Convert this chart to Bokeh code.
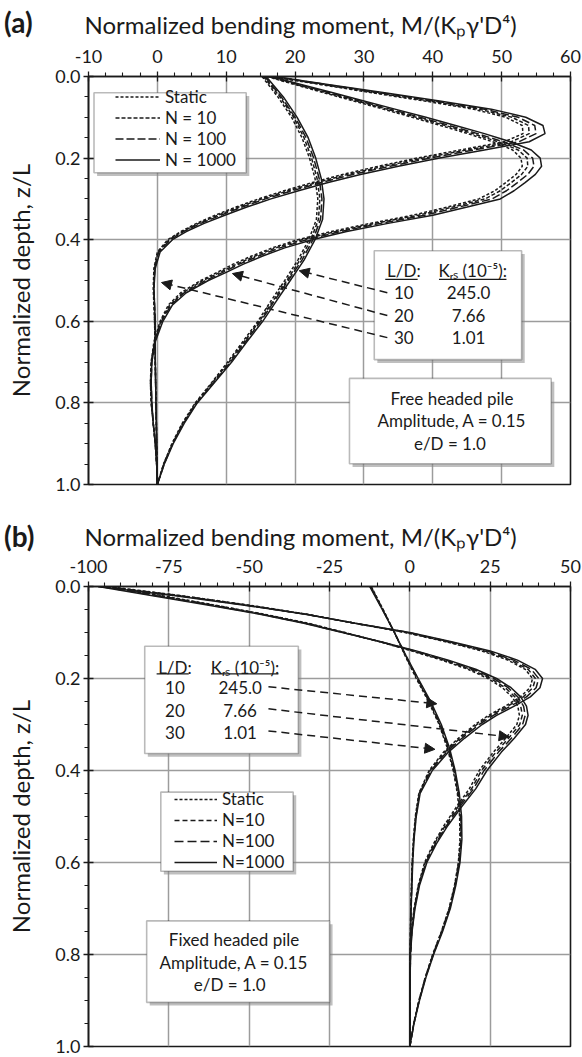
from bokeh.plotting import figure
from bokeh.models import (Range1d, FixedTicker, PrintfTickFormatter, Label, Legend, LegendItem,
                          BoxAnnotation, Arrow, NormalHead, ColumnDataSource, Title, Div, GridBox)
from bokeh.embed import file_html
from bokeh.resources import INLINE

# ---------------- DATA: panel (a) free headed pile ----------------
series_names_a = ["Static", "N = 10", "N = 100", "N = 1000"]

a10_z = [0.00, 0.05, 0.10, 0.15, 0.20, 0.25, 0.30, 0.35, 0.40, 0.45, 0.50,
         0.55, 0.60, 0.65, 0.70, 0.75, 0.80, 0.85, 0.90, 0.95, 1.00]
a10_static = [15.2, 17.5, 19.5, 21.0, 22.1, 22.9, 23.3, 23.1, 22.0, 20.4, 18.5,
              16.5, 14.6, 12.4, 10.2, 7.9, 5.5, 3.6, 2.1, 0.9, 0.0]
a10_n10 = [15.4, 17.8, 19.8, 21.3, 22.4, 23.2, 23.6, 23.4, 22.3, 20.7, 18.8,
           16.8, 14.8, 12.6, 10.4, 8.0, 5.6, 3.7, 2.2, 0.9, 0.0]
a10_n100 = [15.6, 18.0, 20.0, 21.6, 22.7, 23.5, 23.9, 23.7, 22.6, 21.0, 19.0,
            17.0, 15.0, 12.8, 10.6, 8.2, 5.7, 3.8, 2.2, 1.0, 0.0]
a10_n1000 = [15.8, 18.3, 20.3, 21.9, 23.0, 23.8, 24.2, 24.0, 22.9, 21.3, 19.3,
             17.3, 15.3, 13.0, 10.8, 8.3, 5.8, 3.9, 2.3, 1.0, 0.0]

a20_z = [0.00, 0.02, 0.04, 0.06, 0.08, 0.10, 0.12, 0.14, 0.16, 0.18, 0.20, 0.22,
         0.24, 0.26, 0.28, 0.30, 0.32, 0.34, 0.36, 0.38, 0.40, 0.42, 0.44, 0.46,
         0.48, 0.50, 0.53, 0.56, 0.60, 0.65, 0.70, 0.75, 0.80, 0.85, 0.90, 0.95, 1.00]
a20_static = [15.9, 20.0, 24.2, 28.5, 32.8, 37.0, 41.1, 45.1, 48.7, 51.6, 52.8, 53.0,
              52.1, 50.6, 49.0, 46.7, 42.1, 37.1, 30.9, 25.2, 20.4, 16.7, 13.7, 11.0,
              8.7, 6.3, 3.4, 1.6, 0.4, -0.5, -0.9, -1.0, -0.9, -0.6, -0.3, -0.1, 0.0]
a20_n10 = [16.1, 20.3, 24.6, 29.0, 33.3, 37.6, 41.8, 45.8, 49.5, 52.4, 53.7, 53.8,
           52.9, 51.4, 49.8, 47.6, 42.9, 37.9, 31.6, 25.9, 21.0, 17.2, 14.2, 11.5,
           9.1, 6.6, 3.7, 1.8, 0.5, -0.4, -0.9, -1.0, -0.9, -0.6, -0.3, -0.1, 0.0]
a20_n100 = [16.3, 20.6, 25.0, 29.4, 33.8, 38.2, 42.4, 46.5, 50.2, 53.2, 54.5, 54.7,
            53.8, 52.3, 50.7, 48.6, 43.8, 38.8, 32.4, 26.6, 21.7, 17.8, 14.7, 11.9,
            9.5, 7.0, 3.9, 2.0, 0.6, -0.4, -0.8, -0.9, -0.8, -0.6, -0.3, -0.1, 0.0]
a20_n1000 = [16.5, 21.0, 25.5, 30.0, 34.5, 39.0, 43.3, 47.5, 51.3, 54.3, 55.6, 55.8,
             54.9, 53.4, 51.8, 49.8, 45.0, 40.0, 33.5, 27.5, 22.5, 18.5, 15.3, 12.5,
             10.0, 7.4, 4.2, 2.2, 0.8, -0.3, -0.8, -0.9, -0.8, -0.6, -0.3, -0.1, 0.0]

a30_z = [0.00, 0.02, 0.04, 0.06, 0.08, 0.10, 0.12, 0.14, 0.16, 0.18, 0.20, 0.22,
         0.24, 0.26, 0.28, 0.30, 0.32, 0.34, 0.36, 0.38, 0.40, 0.43, 0.47, 0.52,
         0.60, 0.70, 0.80, 0.90, 1.00]
a30_static = [16.4, 23.8, 31.2, 38.8, 45.9, 50.6, 53.0, 53.1, 50.4, 44.0, 37.7, 32.1,
              26.9, 22.5, 18.4, 14.7, 11.4, 8.4, 5.7, 3.4, 1.5, 0.0, -0.5, -0.6,
              -0.4, -0.3, -0.2, -0.1, 0.0]
a30_n10 = [16.6, 24.2, 31.8, 39.5, 46.7, 51.5, 53.9, 54.0, 51.4, 45.0, 38.6, 32.9,
           27.6, 23.1, 19.0, 15.2, 11.8, 8.8, 6.0, 3.6, 1.7, 0.1, -0.4, -0.5,
           -0.4, -0.3, -0.2, -0.1, 0.0]
a30_n100 = [16.8, 24.6, 32.4, 40.2, 47.5, 52.4, 54.8, 55.0, 52.5, 46.0, 39.6, 33.8,
            28.4, 23.8, 19.6, 15.7, 12.3, 9.2, 6.3, 3.8, 1.9, 0.2, -0.4, -0.5,
            -0.3, -0.3, -0.2, -0.1, 0.0]
a30_n1000 = [17.0, 25.0, 33.0, 41.0, 48.5, 53.5, 56.0, 56.3, 54.0, 47.5, 41.0, 35.0,
             29.5, 24.8, 20.5, 16.5, 13.0, 9.8, 6.8, 4.2, 2.2, 0.4, -0.3, -0.5,
             -0.3, -0.3, -0.2, -0.1, 0.0]

# ---------------- DATA: panel (b) fixed headed pile ----------------
series_names_b = ["Static", "N=10", "N=100", "N=1000"]

b10_z = [0.00, 0.05, 0.10, 0.15, 0.20, 0.25, 0.30, 0.35, 0.40, 0.45, 0.50,
         0.55, 0.60, 0.65, 0.70, 0.75, 0.80, 0.85, 0.90, 0.95, 1.00]
b10_static = [-12.0, -8.3, -4.8, -1.5, 2.0, 5.8, 9.1, 11.6, 13.5, 14.8, 15.5,
              15.6, 15.1, 13.9, 12.2, 9.8, 7.1, 4.8, 2.8, 1.2, 0.0]
b10_n10 = [-12.1, -8.4, -4.8, -1.4, 2.2, 6.0, 9.3, 11.8, 13.7, 15.0, 15.7,
           15.8, 15.2, 14.0, 12.3, 9.9, 7.2, 4.8, 2.9, 1.2, 0.0]
b10_n100 = [-12.3, -8.5, -4.8, -1.3, 2.4, 6.2, 9.5, 12.0, 13.9, 15.2, 15.9,
            16.0, 15.4, 14.1, 12.4, 10.0, 7.3, 4.9, 2.9, 1.3, 0.0]
b10_n1000 = [-12.5, -8.6, -4.8, -1.2, 2.6, 6.5, 9.8, 12.3, 14.1, 15.4, 16.1,
             16.2, 15.6, 14.3, 12.6, 10.2, 7.4, 5.0, 3.0, 1.3, 0.0]

b20_z = [0.00, 0.02, 0.04, 0.06, 0.08, 0.10, 0.12, 0.14, 0.16, 0.18, 0.20, 0.22,
         0.24, 0.26, 0.28, 0.30, 0.33, 0.36, 0.40, 0.44, 0.48, 0.52, 0.56, 0.60,
         0.65, 0.70, 0.75, 0.80, 0.90, 1.00]
b20_static = [-94, -77, -61, -45.5, -31.5, -20.2, -9.4, 0.5, 9.9, 18.1, 24.3, 28.8,
              31.8, 33.6, 34.1, 33.3, 29.8, 26.0, 21.6, 18.5, 14.4, 10.6, 7.3, 4.6,
              2.6, 1.3, 0.5, 0.1, 0.0, 0.0]
b20_n10 = [-95, -78, -61.5, -46, -32, -20.5, -9.3, 1.0, 10.6, 18.9, 25.2, 29.7,
           32.7, 34.5, 35.0, 34.2, 30.7, 26.8, 22.3, 19.2, 14.9, 11.0, 7.6, 4.8,
           2.7, 1.4, 0.6, 0.2, 0.0, 0.0]
b20_n100 = [-96, -79, -62, -46.5, -32.5, -20.8, -9.2, 1.5, 11.3, 19.7, 26.1, 30.6,
            33.6, 35.4, 35.9, 35.1, 31.6, 27.6, 23.1, 19.8, 15.4, 11.4, 7.9, 5.0,
            2.8, 1.5, 0.6, 0.2, 0.0, 0.0]
b20_n1000 = [-97, -80, -63, -47, -33, -21, -9, 2, 12, 20.5, 27, 31.5,
             34.5, 36.3, 36.8, 36.0, 32.5, 28.5, 24.0, 20.5, 16.0, 11.8, 8.2, 5.3,
             3.0, 1.6, 0.7, 0.2, 0.0, 0.0]

b30_z = [0.00, 0.02, 0.04, 0.06, 0.08, 0.10, 0.12, 0.14, 0.16, 0.18, 0.20, 0.22,
         0.24, 0.26, 0.28, 0.30, 0.33, 0.36, 0.40, 0.45, 0.50, 0.55, 0.60, 0.70,
         0.80, 0.90, 1.00]
b30_static = [-94, -71, -50.5, -32.2, -17, -1.5, 11.1, 22.4, 30.5, 35.9, 38.2, 37.4,
              34.4, 29.7, 24.5, 20.3, 15.1, 10.5, 6.0, 2.8, 1.7, 1.1, 0.7, 0.3,
              0.1, 0.0, 0.0]
b30_n10 = [-95, -71.5, -51, -32.5, -17, -1.0, 11.7, 23.2, 31.4, 36.8, 39.1, 38.3,
           35.3, 30.5, 25.2, 20.9, 15.6, 10.9, 6.3, 2.9, 1.8, 1.2, 0.8, 0.3,
           0.1, 0.0, 0.0]
b30_n100 = [-96, -72, -51.5, -32.7, -17, -0.5, 12.3, 24, 32.3, 37.8, 40.1, 39.3,
            36.3, 31.4, 26.0, 21.6, 16.2, 11.4, 6.6, 3.0, 1.9, 1.2, 0.8, 0.4,
            0.1, 0.0, 0.0]
b30_n1000 = [-97, -73, -52, -33, -17, 0, 13, 25, 33.5, 39, 41.3, 40.5,
             37.5, 32.5, 27, 22.5, 17, 12.0, 7.0, 3.2, 2.0, 1.3, 0.9, 0.4,
             0.1, 0.0, 0.0]

# table contents
ld_values = ["10", "20", "30"]
krs_values = ["245.0", "7.66", "1.01"]

# axis ticks
a_xticks = [-10, 0, 10, 20, 30, 40, 50, 60]
b_xticks = [-100, -75, -50, -25, 0, 25, 50]
yticks = [0.0, 0.2, 0.4, 0.6, 0.8, 1.0]

# ---------------- STYLE ----------------
FONT = "Lato"
INK = "#1a1a1a"
dash_a = ["3 2", "4 2", "8 3", "solid"]
dash_b = ["3 2", "5 3", "9 4", "solid"]
TITLE = "Normalized bending moment,  M/(K\u209a\u03b3'D\u2074)"
YLABEL = "Normalized depth, z/L"


def minor(ticks, n):
    out = []
    for a, b in zip(ticks[:-1], ticks[1:]):
        step = (b - a) / n
        out += [a + step * k for k in range(1, n)]
    return out


def make_fig(height, border_top, border_bottom, xticks, n_minor_x, title_standoff):
    p = figure(width=582, height=height,
               x_range=Range1d(xticks[0], xticks[-1]), y_range=Range1d(1.0, 0.0),
               x_axis_location="above", output_backend="svg", toolbar_location=None,
               min_border_left=88, min_border_right=12,
               min_border_top=border_top, min_border_bottom=border_bottom)
    p.title = Title(text=TITLE, align="left", offset=-4, standoff=title_standoff,
                    text_font=FONT, text_font_size="24px", text_font_style="normal",
                    text_line_height=1.0, text_color=INK)
    p.background_fill_color = "white"
    p.border_fill_color = "white"
    p.outline_line_color = INK
    p.outline_line_width = 1.6
    p.xaxis.ticker = FixedTicker(ticks=xticks, minor_ticks=minor(xticks, n_minor_x))
    p.yaxis.ticker = FixedTicker(ticks=yticks, minor_ticks=minor(yticks, 4))
    p.xaxis.formatter = PrintfTickFormatter(format="%d")
    p.yaxis.formatter = PrintfTickFormatter(format="%.1f")
    for ax in (p.xaxis[0], p.yaxis[0]):
        ax.axis_line_color = INK
        ax.axis_line_width = 1.6
        ax.major_tick_line_color = INK
        ax.major_tick_line_width = 1.3
        ax.minor_tick_line_color = INK
        ax.minor_tick_line_width = 1.1
        ax.major_tick_in = 5
        ax.major_tick_out = 5
        ax.minor_tick_in = 0
        ax.minor_tick_out = 4
        ax.major_label_text_font = FONT
        ax.major_label_text_font_size = "18px"
        ax.major_label_text_color = INK
    p.xaxis.major_label_standoff = 9
    p.yaxis.major_label_standoff = 3
    p.yaxis.axis_label = YLABEL
    p.yaxis.axis_label_standoff = 17
    p.yaxis.axis_label_text_font = FONT
    p.yaxis.axis_label_text_font_size = "24px"
    p.yaxis.axis_label_text_font_style = "normal"
    p.yaxis.axis_label_text_color = INK
    p.xgrid.ticker = FixedTicker(ticks=xticks)
    p.ygrid.ticker = FixedTicker(ticks=yticks)
    for g in (p.xgrid[0], p.ygrid[0]):
        g.grid_line_color = "#9c9c9c"
        g.grid_line_width = 1.5
    return p


def text(p, x, y, s, size="17px", align="center"):
    p.add_layout(Label(x=x, y=y, text=s, text_font=FONT, text_font_size=size,
                       text_align=align, text_baseline="middle", text_color=INK))


def box(p, left, right, top, bottom, dx, dz):
    p.add_layout(BoxAnnotation(left=left + dx, right=right + dx, top=top + dz, bottom=bottom + dz,
                               fill_color="#8a8a8a", fill_alpha=0.55, line_alpha=0))
    p.add_layout(BoxAnnotation(left=left, right=right, top=top, bottom=bottom,
                               fill_color="white", fill_alpha=1.0,
                               line_color=INK, line_width=1.6))


def underline(p, x0, x1, y):
    p.add_layout(Arrow(x_start=x0, x_end=x1, y_start=y, y_end=y, end=None,
                       line_color=INK, line_width=1.2))


def arrow(p, x0, y0, x1, y1):
    p.add_layout(Arrow(x_start=x0, y_start=y0, x_end=x1, y_end=y1,
                       line_color=INK, line_width=1.5, line_dash="8 5",
                       end=NormalHead(size=10, fill_color=INK, line_color=INK)))


def draw_group(p, z, series, dashes):
    rs = []
    for vals, d in zip(series, dashes):
        src = ColumnDataSource(data=dict(m=vals, z=z))
        rs.append(p.line("m", "z", source=src, line_color=INK, line_width=1.5, line_dash=d))
    return rs


def panel_tag(s, top):
    return Div(text=s, width=48, height=33, align="start", margin=(top, 0, 0, 4),
               styles={"font-family": FONT, "font-size": "28px", "font-weight": "bold",
                       "color": INK, "line-height": "33px"})


# ================= panel (a) =================
pa = make_fig(500, 76, 16, a_xticks, 4, 15)
ra = draw_group(pa, a10_z, [a10_static, a10_n10, a10_n100, a10_n1000], dash_a)
draw_group(pa, a20_z, [a20_static, a20_n10, a20_n100, a20_n1000], dash_a)
draw_group(pa, a30_z, [a30_static, a30_n10, a30_n100, a30_n1000], dash_a)

# legend box (a)
box(pa, -9.2, 12.9, 0.040, 0.236, 0.45, 0.008)
leg_a = Legend(items=[LegendItem(label=n, renderers=[r]) for n, r in zip(series_names_a, ra)],
               location=(27, 314), padding=0, margin=0, spacing=0,
               glyph_width=45, glyph_height=19, label_height=19, label_standoff=5,
               label_text_font=FONT, label_text_font_size="17px", label_text_color=INK,
               border_line_alpha=0, background_fill_alpha=0)
pa.add_layout(leg_a)

# table (a)
box(pa, 31.5, 52.9, 0.427, 0.694, 0.45, 0.008)
text(pa, 35.8, 0.476, "L/D:")
text(pa, 45.8, 0.476, "K\u1d63\u209b (10\u207b\u2075):")
underline(pa, 33.1, 37.8, 0.497)
underline(pa, 40.9, 50.7, 0.497)
rows_a = [0.530, 0.586, 0.640]
for ld, krs, zr in zip(ld_values, krs_values, rows_a):
    text(pa, 35.8, zr, ld)
    text(pa, 45.2, zr, krs)
for (x0, y0), (x1, y1) in zip([(33.4, 0.530), (33.4, 0.586), (33.4, 0.640)],
                              [(20.6, 0.476), (10.9, 0.483), (0.6, 0.505)]):
    arrow(pa, x0, y0, x1, y1)

# info box (a)
box(pa, 27.9, 57.2, 0.740, 0.949, 0.45, 0.008)
text(pa, 42.8, 0.789, "Free headed pile")
text(pa, 42.8, 0.843, "Amplitude, A = 0.15")
text(pa, 42.8, 0.900, "e/D =  1.0")

# ================= panel (b) =================
pb = make_fig(557, 86, 11, b_xticks, 5, 11)
rb = draw_group(pb, b10_z, [b10_static, b10_n10, b10_n100, b10_n1000], dash_b)
draw_group(pb, b20_z, [b20_static, b20_n10, b20_n100, b20_n1000], dash_b)
draw_group(pb, b30_z, [b30_static, b30_n10, b30_n100, b30_n1000], dash_b)

# table (b)
box(pb, -82.5, -34.7, 0.130, 0.363, 0.95, 0.007)
text(pb, -73.1, 0.175, "L/D:")
text(pb, -51.3, 0.175, "K\u1d63\u209b (10\u207b\u2075):")
underline(pb, -78.8, -68.8, 0.190)
underline(pb, -61.9, -40.9, 0.190)
rows_b = [0.220, 0.270, 0.317]
for ld, krs, zr in zip(ld_values, krs_values, rows_b):
    text(pb, -73.1, zr, ld)
    text(pb, -52.8, zr, krs)
for (x0, y0), (x1, y1) in zip([(-44.0, 0.218), (-44.0, 0.266), (-44.0, 0.314)],
                              [(8.4, 0.255), (30.9, 0.327), (7.8, 0.354)]):
    arrow(pb, x0, y0, x1, y1)

# legend box (b)
box(pb, -77.5, -36.3, 0.447, 0.619, 0.95, 0.007)
leg_b = Legend(items=[LegendItem(label=n, renderers=[r]) for n, r in zip(series_names_b, rb)],
               location=(86, 174), padding=0, margin=0, spacing=0,
               glyph_width=43, glyph_height=20, label_height=20, label_standoff=5,
               label_text_font=FONT, label_text_font_size="17px", label_text_color=INK,
               border_line_alpha=0, background_fill_alpha=0)
pb.add_layout(leg_b)

# info box (b)
box(pb, -81.9, -25.0, 0.727, 0.904, 0.95, 0.007)
text(pb, -54.7, 0.768, "Fixed headed pile")
text(pb, -54.7, 0.818, "Amplitude, A = 0.15")
text(pb, -54.7, 0.865, "e/D  =  1.0")

layout = GridBox(children=[(pa, 0, 0), (panel_tag("(a)", 6), 0, 0),
                           (pb, 1, 0), (panel_tag("(b)", 20), 1, 0)], spacing=0)
open("out.html", "w").write(file_html(layout, INLINE))
